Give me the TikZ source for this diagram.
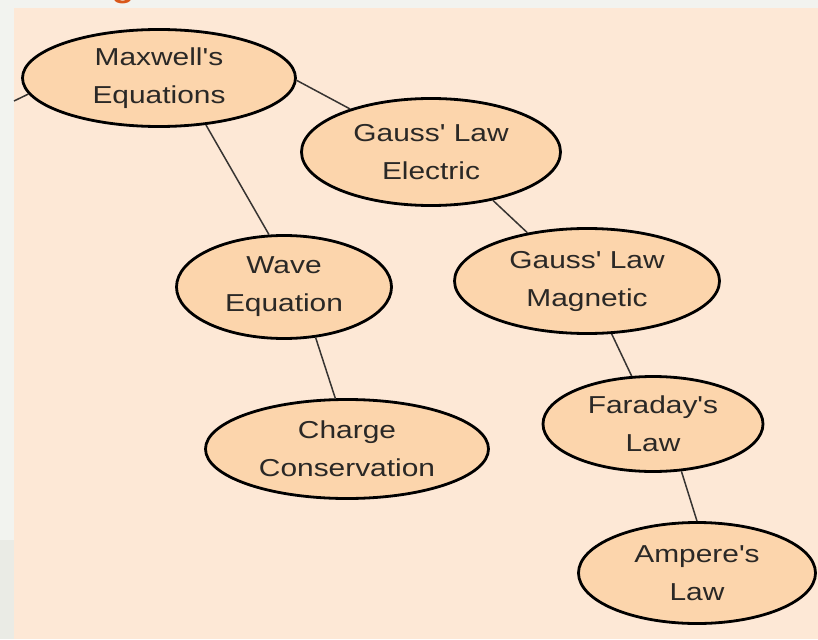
\documentclass[tikz,border=0pt]{standalone}
\usepackage{fontspec}
\setmainfont[FakeStretch=1.22,Ligatures=TeXOff]{Liberation Sans}
\usetikzlibrary{shapes.geometric}
\definecolor{peach}{RGB}{253,232,214}
\definecolor{nodefill}{RGB}{252,213,172}
\definecolor{edgegrey}{RGB}{242,243,239}
\definecolor{edgegreyb}{RGB}{234,235,229}
\definecolor{orangetxt}{RGB}{217,88,26}
\definecolor{inkc}{RGB}{42,40,38}
\definecolor{linkc}{RGB}{55,52,50}
\begin{document}
\begin{tikzpicture}[x=1pt,y=-1pt,
  concept/.style={ellipse, draw=black, line width=2.8pt, fill=nodefill, inner sep=0pt,
    align=center, text=inkc, font=\fontsize{24.5}{38}\selectfont},
  link/.style={draw=linkc, line width=1.5pt}]
\useasboundingbox (0,0) rectangle (818,639);
% backdrop
\fill[edgegrey] (0,0) rectangle (818,639);
\fill[edgegreyb] (0,540) rectangle (14,639);
\fill[peach] (14,8) rectangle (818,639);
% cut-off orange heading glyph
\begin{scope}
  \clip (0,0) rectangle (818,8);
  \node[anchor=base, inner sep=0pt, text=orangetxt, font=\fontsize{30}{30}\bfseries\selectfont] (headg) at (123,-2.5) {g};
\end{scope}
% concepts
\node[concept, minimum width=273pt, minimum height=97pt]  (max)  at (159,78)  {Maxwell's\\Equations};
\node[concept, minimum width=259pt, minimum height=107pt] (ge)   at (431,152) {Gauss' Law\\Electric};
\node[concept, minimum width=215pt, minimum height=103pt] (wave) at (284,287) {Wave\\Equation};
\node[concept, minimum width=265pt, minimum height=105pt] (gm)   at (587,281) {Gauss' Law\\Magnetic};
\node[concept, minimum width=283pt, minimum height=99pt]  (cc)   at (347,449) {Charge\\Conservation};
\node[concept, minimum width=220pt, minimum height=95pt]  (far)  at (653,424) {Faraday's\\Law};
\node[concept, minimum width=237pt, minimum height=101pt] (amp)  at (697,573) {Ampere's\\Law};
% connectors
\coordinate (lfree) at (14,101);
\begin{scope}[on background layer/.style={}]
\end{scope}
\draw[link] (lfree) -- (max.-173);
\draw[link] (max.-1) -- (ge.152);
\draw[link] (max.-45.6) -- (wave.106.5);
\draw[link] (ge.-38.2) -- (gm.141.7);
\draw[link] (wave.-58) -- (cc.103);
\draw[link] (gm.-65.2) -- (far.114.3);
\draw[link] (far.-59.4) -- (amp.90);
\end{tikzpicture}
\end{document}
